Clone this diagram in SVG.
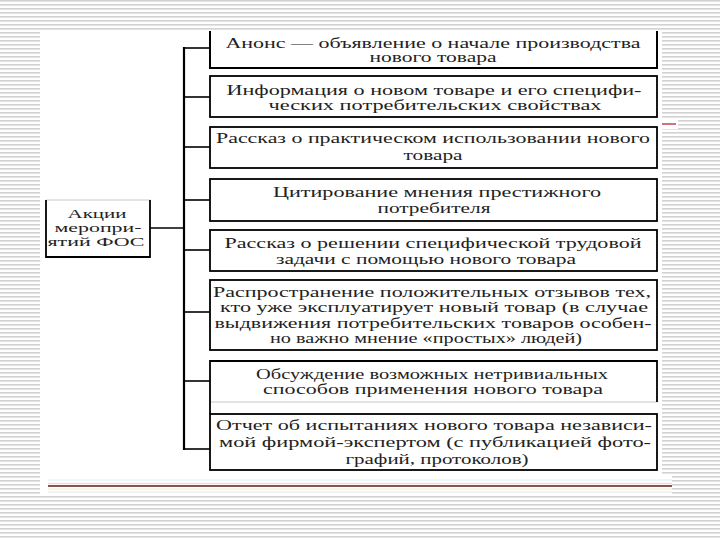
<svg xmlns="http://www.w3.org/2000/svg" width="720" height="540" viewBox="0 0 720 540">
<defs>
<pattern id="stripes" x="0" y="0" width="8" height="4" patternUnits="userSpaceOnUse">
<rect width="8" height="4" fill="#ffffff"/>
<rect y="0" width="8" height="1.6" fill="#d2d2d2"/>
</pattern>
<style>
.box{fill:#ffffff;stroke:#000;stroke-width:1.8}
.open{fill:none;stroke:#000;stroke-width:1.8}
.faint{fill:none;stroke:#c8c8c8;stroke-width:1}
.t{font-family:"Liberation Serif","Times New Roman",serif;font-size:14px;fill:#222;text-anchor:middle}
.s{font-size:13px}
.c{stroke:#000;stroke-width:1.6;fill:none}
</style>
</defs>
<rect width="720" height="540" fill="url(#stripes)"/>
<rect x="40" y="31" width="622" height="445" fill="#ffffff"/>
<rect x="40" y="476" width="632" height="20" fill="#ffffff"/>
<line x1="48" y1="480" x2="672" y2="480" stroke="#dcecf2" stroke-width="1"/>
<line x1="48" y1="483.5" x2="672" y2="483.5" stroke="#f6d8dc" stroke-width="1.5"/>
<line x1="48" y1="486" x2="672" y2="486" stroke="#5e1818" stroke-width="1.6"/>
<line x1="48" y1="489" x2="672" y2="489" stroke="#eeeacc" stroke-width="1"/>
<line x1="48" y1="492" x2="672" y2="492" stroke="#e6e4f2" stroke-width="1"/>
<rect x="660" y="119" width="18" height="10" fill="#ffffff"/>
<line x1="662" y1="124" x2="676" y2="124" stroke="#c8505e" stroke-width="1.6"/>

<g id="connectors">
<line class="c" x1="184" y1="47" x2="184" y2="450" style="stroke-width:2.2"/>
<line class="c" x1="150" y1="228" x2="184" y2="228"/>
<line class="c" x1="184" y1="48" x2="210" y2="48"/>
<line class="c" x1="184" y1="97" x2="210" y2="97"/>
<line class="c" x1="184" y1="147" x2="210" y2="147"/>
<line class="c" x1="184" y1="200" x2="210" y2="200"/>
<line class="c" x1="184" y1="250" x2="210" y2="250"/>
<line class="c" x1="184" y1="312" x2="210" y2="312"/>
<line class="c" x1="184" y1="381" x2="210" y2="381"/>
<line class="c" x1="184" y1="449" x2="210" y2="449"/>
</g>

<g id="root">
<line class="faint" x1="46" y1="200" x2="150" y2="200"/>
<path class="open" d="M46,200 V257 H150 V200"/>
<text class="t s" x="97" y="218" textLength="59" lengthAdjust="spacingAndGlyphs">Акции</text>
<text class="t s" x="98" y="232" textLength="87" lengthAdjust="spacingAndGlyphs">меропри-</text>
<text class="t s" x="96" y="246" textLength="97" lengthAdjust="spacingAndGlyphs">ятий ФОС</text>
</g>

<g id="n1">
<path class="open" d="M210,31 V68 H657 V31" style="stroke-width:2"/>
<text class="t" x="433" y="48" textLength="415" lengthAdjust="spacingAndGlyphs">Анонс — объявление о начале производства</text>
<text class="t" x="433" y="62" textLength="127" lengthAdjust="spacingAndGlyphs">нового товара</text>
</g>

<g id="n2">
<rect class="box" x="210" y="76" width="447" height="41"/>
<text class="t" x="434" y="95" textLength="415" lengthAdjust="spacingAndGlyphs">Информация о новом товаре и его специфи-</text>
<text class="t" x="435" y="110" textLength="333" lengthAdjust="spacingAndGlyphs">ческих потребительских свойствах</text>
</g>

<g id="n3">
<rect class="box" x="210" y="127" width="447" height="41"/>
<text class="t" x="433" y="143" textLength="434" lengthAdjust="spacingAndGlyphs">Рассказ о практическом использовании нового</text>
<text class="t" x="433" y="160" textLength="59" lengthAdjust="spacingAndGlyphs">товара</text>
</g>

<g id="n4">
<rect class="box" x="210" y="179" width="447" height="42"/>
<text class="t" x="437" y="197" textLength="328" lengthAdjust="spacingAndGlyphs">Цитирование мнения престижного</text>
<text class="t" x="434" y="213" textLength="113" lengthAdjust="spacingAndGlyphs">потребителя</text>
</g>

<g id="n5">
<rect class="box" x="210" y="230" width="447" height="41"/>
<text class="t" x="433" y="248" textLength="417" lengthAdjust="spacingAndGlyphs">Рассказ о решении специфической трудовой</text>
<text class="t" x="426" y="264" textLength="300" lengthAdjust="spacingAndGlyphs">задачи с помощью нового товара</text>
</g>

<g id="n6">
<rect class="box" x="210" y="280" width="447" height="70"/>
<text class="t" x="432" y="297" textLength="438" lengthAdjust="spacingAndGlyphs">Распространение положительных отзывов тех,</text>
<text class="t" x="434" y="312" textLength="428" lengthAdjust="spacingAndGlyphs">кто уже эксплуатирует новый товар (в случае</text>
<text class="t" x="433" y="328" textLength="437" lengthAdjust="spacingAndGlyphs">выдвижения потребительских товаров особен-</text>
<text class="t" x="426" y="343" textLength="312" lengthAdjust="spacingAndGlyphs">но важно мнение «простых» людей)</text>
</g>

<g id="n7">
<line class="faint" x1="210" y1="402" x2="657" y2="402"/>
<path class="open" d="M210,414 V361 H657 V402"/>
<text class="t" x="432" y="379" textLength="352" lengthAdjust="spacingAndGlyphs">Обсуждение возможных нетривиальных</text>
<text class="t" x="433" y="394" textLength="340" lengthAdjust="spacingAndGlyphs">способов применения нового товара</text>
</g>

<g id="n8">
<rect class="box" x="210" y="414" width="447" height="56"/>
<text class="t" x="434" y="430" textLength="436" lengthAdjust="spacingAndGlyphs">Отчет об испытаниях нового товара независи-</text>
<text class="t" x="435" y="447" textLength="432" lengthAdjust="spacingAndGlyphs">мой фирмой-экспертом (с публикацией фото-</text>
<text class="t" x="437" y="464" textLength="183" lengthAdjust="spacingAndGlyphs">графий, протоколов)</text>
</g>
</svg>
